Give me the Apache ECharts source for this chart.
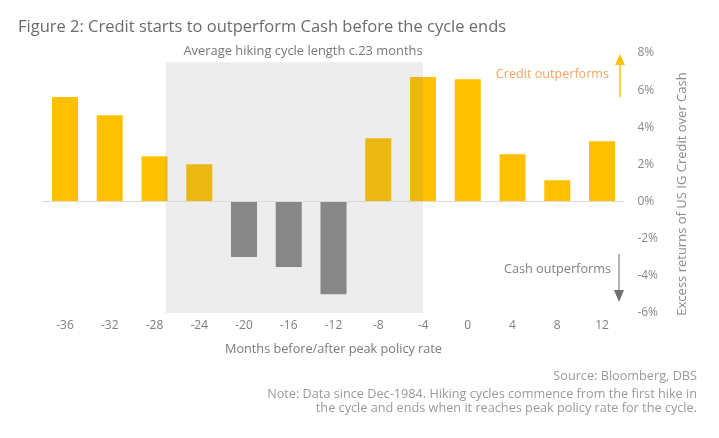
<!DOCTYPE html>
<html>
<head>
<meta charset="utf-8">
<script src="https://cdn.jsdelivr.net/npm/echarts@6/dist/echarts.min.js"></script>
<style>
html,body{margin:0;padding:0;background:#fff;}
#chart{width:719px;height:438px;}
</style>
</head>
<body>
<div id="chart"></div>
<script>
// ---- data ----
var months = ['-36','-32','-28','-24','-20','-16','-12','-8','-4','0','4','8','12'];
var excessReturns = [5.63, 4.65, 2.44, 2.01, -2.98, -3.52, -4.99, 3.41, 6.71, 6.59, 2.55, 1.15, 3.25];
var yMin = -6, yMax = 8, yStep = 2;
var cycleStart = -27, cycleEnd = -4;   // average hiking cycle (months), c.23 months
var shadeTop = 7.5;
var monthAxisMin = -38, monthAxisMax = 14;

var FONT = '"Open Sans", "Noto Sans", sans-serif';
var chart = echarts.init(document.getElementById('chart'), null, {renderer: 'canvas'});

var option = {
  backgroundColor: '#ffffff',
  animation: false,
  title: {
    text: 'Figure 2: Credit starts to outperform Cash before the cycle ends',
    left: 13, top: 14,
    textStyle: {fontFamily: FONT, fontSize: 16.5, fontWeight: 'normal', color: '#6b6b6b'}
  },
  grid: {left: 42.6, right: 94.6, top: 53, bottom: 125, containLabel: false},
  xAxis: [{
    type: 'category',
    data: months,
    axisLine: {show: false, onZero: false},
    axisTick: {show: false},
    axisLabel: {color: '#7f7f7f', fontFamily: FONT, fontSize: 12, margin: 7},
    name: 'Months before/after peak policy rate',
    nameLocation: 'middle',
    nameGap: 30,
    nameTextStyle: {color: '#7a7a7a', fontFamily: FONT, fontSize: 12.7}
  }, {
    type: 'value',
    min: monthAxisMin, max: monthAxisMax,
    show: false
  }],
  yAxis: {
    type: 'value',
    position: 'right',
    min: yMin, max: yMax, interval: yStep,
    axisLine: {show: false},
    axisTick: {show: false},
    splitLine: {show: false},
    axisLabel: {formatter: '{value}%', color: '#8a8a8a', fontFamily: FONT, fontSize: 12, margin: 13}
  },
  series: [{
    type: 'bar',
    data: excessReturns,
    barWidth: 26,
    z: 2,
    itemStyle: {
      color: function (p) { return p.value >= 0 ? '#FFC000' : '#888888'; }
    },
    markLine: {
      silent: true,
      symbol: ['none', 'none'],
      label: {show: false},
      lineStyle: {color: '#d9d9d9', width: 1, type: 'solid'},
      data: [{yAxis: 0}]
    }
  }, {
    type: 'scatter',
    xAxisIndex: 1,
    data: [],
    z: 5,
    markArea: {
      silent: true,
      z: 5,
      itemStyle: {color: 'rgba(128,128,128,0.145)'},
      data: [[{xAxis: cycleStart, yAxis: shadeTop}, {xAxis: cycleEnd, yAxis: yMin}]]
    }
  }],
  graphic: [
    {type: 'text', x: 303, y: 51, z: 10,
      style: {text: 'Average hiking cycle length c.23 months', fill: '#777777', font: '12.9px ' + FONT, align: 'center', verticalAlign: 'middle'}},
    {type: 'text', x: 609, y: 74, z: 10,
      style: {text: 'Credit outperforms', fill: '#F2A463', font: '12.6px ' + FONT, align: 'right', verticalAlign: 'middle'}},
    {type: 'line', z: 10, shape: {x1: 620, y1: 97, x2: 620, y2: 62}, style: {stroke: '#FFC000', lineWidth: 1.5}},
    {type: 'polygon', z: 10, shape: {points: [[615, 65], [625, 65], [620, 54]]}, style: {fill: '#FFC000'}},
    {type: 'text', x: 611, y: 269, z: 10,
      style: {text: 'Cash outperforms', fill: '#808080', font: '12.7px ' + FONT, align: 'right', verticalAlign: 'middle'}},
    {type: 'line', z: 10, shape: {x1: 619, y1: 254, x2: 619, y2: 292}, style: {stroke: '#808080', lineWidth: 1.2}},
    {type: 'polygon', z: 10, shape: {points: [[614, 290], [624, 290], [619, 302]]}, style: {fill: '#707070'}},
    {type: 'text', x: 682, y: 194, rotation: Math.PI / 2, z: 10,
      style: {text: 'Excess returns of US IG Credit over Cash', fill: '#8a8a8a', font: '13px ' + FONT, align: 'center', verticalAlign: 'middle'}},
    {type: 'text', x: 697, y: 376, z: 10,
      style: {text: 'Source: Bloomberg, DBS', fill: '#9a9a9a', font: '12.7px ' + FONT, align: 'right', verticalAlign: 'middle'}},
    {type: 'text', x: 697, y: 394, z: 10,
      style: {text: 'Note: Data since Dec-1984. Hiking cycles commence from the first hike in', fill: '#9a9a9a', font: '12.7px ' + FONT, align: 'right', verticalAlign: 'middle'}},
    {type: 'text', x: 697, y: 408, z: 10,
      style: {text: 'the cycle and ends when it reaches peak policy rate for the cycle.', fill: '#9a9a9a', font: '12.7px ' + FONT, align: 'right', verticalAlign: 'middle'}}
  ]
};
chart.setOption(option);
</script>
</body>
</html>
